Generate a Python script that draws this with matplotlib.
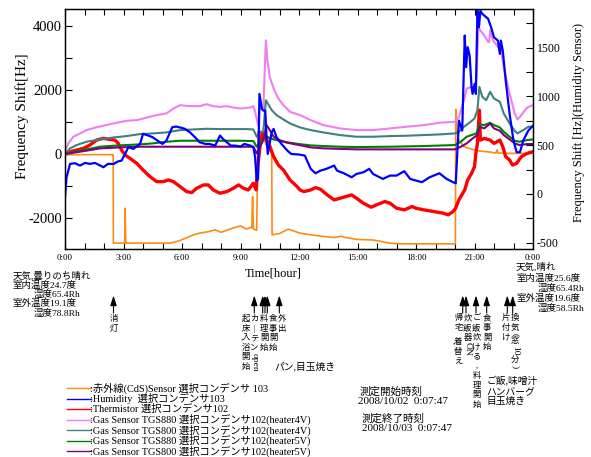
import matplotlib
matplotlib.use("Agg")
import matplotlib.pyplot as plt
from matplotlib.lines import Line2D
from matplotlib.patches import FancyArrowPatch
from matplotlib.ticker import MultipleLocator
from matplotlib.transforms import Affine2D

plt.rcParams['font.family'] = ['Liberation Serif', 'Noto Sans CJK JP']
plt.rcParams['axes.unicode_minus'] = False

# ---------------- data (time in hours since 0:07:47) ----------------
t_cds = [0, 2.47, 2.48, 3.06, 3.08, 3.12, 3.14, 5.4, 5.9, 6.6, 6.9, 7.4, 7.7, 8.0, 8.6, 9.0, 9.3,
         9.5, 9.58, 9.62, 9.66, 9.83, 9.9, 9.95, 10.1, 10.3, 10.45, 10.57, 10.6, 10.62, 11.0, 11.45,
         12.05, 12.6, 13.25, 13.8, 14.2, 14.3, 14.95, 15.8, 16.7, 17.2, 20.02, 20.04, 20.1, 20.2,
         20.46, 21.1, 21.8, 22.1, 22.15, 22.2, 22.8, 24.0]
cds = [-20, -20, -2777, -2777, -1690, -2777, -2777, -2777, -2694, -2517, -2466, -2414, -2360, -2440,
       -2310, -2240, -2340, -2290, -2300, -1330, -2330, -2380, 700, 400, 650, 300, 500, 200, 200,
       -2517, -2480, -2340, -2466, -2517, -2570, -2600, -2560, -2590, -2660, -2680, -2780, -2800,
       -2800, 1390, 700, 435, 228, 104, 62, 30, 130, 30, 20, 20]

t_hum = [0, 0.08, 0.26, 0.51, 0.77, 1.03, 1.28, 1.54, 1.8, 1.97, 2.2, 2.5, 2.7, 2.9, 3.08, 3.25,
         3.5, 3.85, 4.0, 4.27, 4.5, 4.87, 5.0, 5.2, 5.5, 5.7, 6.0, 6.15, 6.4, 6.67, 6.9, 7.2, 7.4,
         7.7, 7.95, 8.1, 8.5, 8.7, 9.0, 9.2, 9.5, 9.66, 9.75, 9.83, 9.9, 9.97, 10.1, 10.17, 10.27,
         10.34, 10.4, 10.6, 10.7, 10.85, 11.1, 11.4, 11.6, 12.0, 12.3, 12.45, 12.6, 12.85, 13.1,
         13.4, 13.8, 13.95, 14.3, 14.7, 14.95, 15.3, 15.6, 15.8, 16.3, 16.67, 17.0, 17.4, 17.7,
         18.3, 18.7, 19.2, 19.57, 19.9, 20.04, 20.2, 20.37, 20.5, 20.57, 20.65, 20.75, 20.85, 20.9,
         21.0, 21.07, 21.15, 21.23, 21.3, 21.4, 21.5, 21.7, 21.85, 22.0, 22.2, 22.3, 22.35, 22.45,
         22.6, 22.8, 23.0, 23.16, 23.33, 23.5, 23.76, 24.0]
hum = [-34, 171, 308, 315, 291, 318, 308, 318, 291, 274, 308, 308, 332, 342, 410, 479, 462, 513,
       616, 599, 581, 530, 513, 547, 684, 691, 677, 667, 633, 581, 530, 513, 513, 496, 599, 564,
       496, 496, 486, 513, 496, 479, 376, 137, 154, 1026, 872, 855, 855, 547, 410, 633, 667, 581,
       513, 445, 410, 404, 393, 325, 257, 212, 239, 257, 291, 239, 212, 171, 205, 222, 257, 205,
       154, 188, 188, 233, 154, 120, 171, 212, 154, 120, 109, 752, 650, 1625, 1300, 1505, 1419,
       1094, 1026, 1129, 1026, 1881, 1710, 1881, 1847, 1830, 1796, 1710, 1607, 1573, 1436, 1573,
       1471, 1163, 821, 547, 428, 428, 547, 650, 701]

t_therm = [0, 0.26, 0.6, 0.94, 1.28, 1.62, 1.97, 2.3, 2.56, 2.73, 2.9, 3.08, 3.33, 3.68, 4.0, 4.36,
           4.7, 5.04, 5.3, 5.56, 5.9, 6.24, 6.5, 6.75, 7.1, 7.35, 7.6, 7.95, 8.3, 8.63, 8.9, 9.15,
           9.4, 9.66, 9.8, 9.9, 10.0, 10.1, 10.25, 10.34, 10.5, 10.7, 10.94, 11.2, 11.54, 11.9,
           12.05, 12.25, 12.6, 12.85, 13.1, 13.45, 13.8, 14.1, 14.4, 14.7, 14.95, 15.3, 15.7, 15.97,
           16.4, 16.67, 17.0, 17.4, 17.8, 18.0, 18.4, 18.9, 19.4, 19.65, 19.9, 20.03, 20.2, 20.4,
           20.5, 20.65, 20.85, 21.0, 21.07, 21.15, 21.25, 21.3, 21.5, 21.8, 22.0, 22.3, 22.45, 22.6,
           22.8, 22.95, 23.16, 23.4, 23.7, 24.0]
therm = [0, 73, 124, 176, 280, 435, 487, 456, 435, 332, 124, -31, -135, -290, -497, -705, -860,
         -860, -808, -860, -1015, -1171, -1202, -1067, -963, -963, -1119, -1222, -1171, -1067,
         -963, -1067, -1119, -912, -1119, -290, 228, 642, 642, 435, 228, -83, -342, -497, -808,
         -1015, -1119, -1171, -1119, -1046, -1098, -1274, -1430, -1378, -1326, -1274, -1378, -1533,
         -1658, -1585, -1481, -1533, -1689, -1740, -1637, -1689, -1740, -1792, -1844, -1896, -1792,
         -1689, -1430, -1222, -1119, -808, -601, -394, 21, 332, 1368, 435, 487, 435, 332, 435, 228,
         -83, -187, -342, -290, -83, 21, 73]

t_880_4v = [0, 0.17, 0.43, 0.77, 1.1, 1.6, 2.1, 2.65, 3.16, 3.7, 4.2, 4.7, 5.2, 5.56, 5.9, 6.4, 6.9,
            7.26, 7.6, 7.95, 8.3, 8.63, 9.0, 9.5, 9.66, 9.75, 9.9, 10.0, 10.17, 10.3, 10.38, 10.5,
            10.7, 10.94, 11.2, 11.54, 12.05, 12.6, 13.25, 14.1, 14.95, 15.8, 16.67, 17.5, 18.4,
            19.2, 20.0, 20.2, 20.46, 20.6, 20.85, 21.0, 21.1, 21.2, 21.3, 21.5, 21.7, 21.75, 21.8,
            21.95, 22.2, 22.35, 22.5, 22.8, 23.06, 23.2, 23.4, 23.7, 24.0]
tgs880_4v = [73, 332, 539, 642, 746, 829, 901, 974, 1036, 1057, 1140, 1212, 1264, 1419, 1523, 1492,
             1492, 1554, 1492, 1471, 1492, 1451, 1419, 1451, 1492, 1316, 901, 1471, 1419, 3543,
             2922, 2404, 2041, 1730, 1523, 1316, 1212, 1057, 901, 798, 746, 746, 798, 850, 901, 974,
             1005, 1160, 1678, 2041, 2093, 1989, 2404, 3957, 3854, 3698, 3491, 3491, 3854, 3543,
             3336, 3284, 2714, 1886, 1264, 1077, 1212, 1451, 1523]

t_800_4v = [0, 0.26, 0.6, 1.1, 1.8, 2.5, 3.16, 3.85, 4.5, 5.2, 5.9, 6.6, 7.26, 7.95, 8.63, 9.3, 9.66,
            9.83, 10.0, 10.17, 10.3, 10.4, 10.6, 10.85, 11.2, 11.54, 12.05, 12.6, 13.25, 14.1,
            14.95, 15.8, 16.67, 17.5, 18.4, 19.2, 20.0, 20.2, 20.46, 20.8, 21.0, 21.15, 21.25, 21.4,
            21.6, 21.8, 22.0, 22.3, 22.5, 22.8, 23.06, 23.2, 23.5, 23.76, 24.0]
tgs800_4v = [0, 176, 280, 383, 456, 518, 559, 622, 642, 673, 746, 767, 787, 777, 777, 777, 767, 539,
             694, 694, 1678, 1575, 1368, 1212, 1077, 953, 829, 746, 673, 591, 539, 539, 559, 570,
             591, 611, 642, 694, 850, 1005, 1109, 1368, 2093, 1782, 1678, 1937, 1730, 1626, 1264,
             953, 725, 642, 746, 850, 850]

t_880_5v = [0, 0.43, 1.1, 1.8, 2.5, 3.16, 3.85, 4.5, 5.2, 5.9, 6.9, 7.95, 9.0, 9.66, 9.83, 10.0,
            10.34, 10.7, 11.2, 12.0, 12.6, 13.25, 14.1, 14.95, 16.67, 18.4, 20.0, 20.3, 20.6, 20.85,
            21.1, 21.25, 21.5, 21.8, 22.0, 22.3, 22.5, 22.8, 23.06, 23.3, 23.7, 24.0]
tgs880_5v = [0, 73, 145, 228, 259, 280, 301, 332, 383, 414, 414, 414, 414, 404, 228, 383, 539, 456,
             383, 311, 269, 249, 228, 218, 228, 249, 280, 383, 539, 591, 642, 922, 901, 974, 901,
             829, 694, 539, 414, 383, 435, 456]

t_800_5v = [0, 0.43, 1.1, 1.8, 2.8, 3.85, 5.5, 7.2, 8.9, 9.66, 9.83, 10.0, 10.17, 10.34, 10.5, 10.7,
            11.0, 11.4, 12.0, 12.6, 13.25, 14.95, 16.67, 18.4, 20.0, 20.3, 20.6, 20.9, 21.15, 21.27,
            21.5, 21.8, 22.0, 22.3, 22.5, 22.8, 23.06, 23.3, 23.7, 24.0]
tgs800_5v = [0, 41, 104, 176, 207, 228, 228, 228, 228, 228, 21, 228, 435, 901, 746, 539, 435, 352,
             280, 207, 176, 145, 145, 145, 145, 228, 332, 487, 591, 850, 798, 953, 798, 725, 591,
             456, 332, 280, 311, 311]

xtick_hours = [0, 3, 6, 9, 12, 15, 18, 21, 24]
xtick_labels = ["0:00", "3:00", "6:00", "9:00", "12:00", "15:00", "18:00", "21:00", "0:00"]

legend_labels = [
    ":赤外線(CdS)Sensor 選択コンデンサ 103",
    ":Humidity  選択コンデンサ103",
    ":Thermistor 選択コンデンサ102",
    ":Gas Sensor TGS880 選択コンデンサ102(heater4V)",
    ":Gas Sensor TGS800 選択コンデンサ102(heater4V)",
    ":Gas Sensor TGS880 選択コンデンサ102(heater5V)",
    ":Gas Sensor TGS800 選択コンデンサ102(heater5V)",
]
colors = ["#ff8a14", "#0000ff", "#ff0000", "#f07ef0", "#3f8080", "#008000", "#800080"]

# ---------------- figure ----------------
W, H = 591, 457
fig = plt.figure(figsize=(W / 100, H / 100), dpi=100)
px = Affine2D().scale(1 / W, -1 / H).translate(0, 1) + fig.transFigure

ax = fig.add_axes([65 / W, 1 - 249 / H, (533 - 65) / W, (249 - 9) / H])
ax2 = ax.twinx()

ax.plot(t_cds, cds, color=colors[0], lw=1.2)
ax.plot(t_therm, therm, color=colors[2], lw=2.4)
ax.plot(t_880_4v, tgs880_4v, color=colors[3], lw=1.5)
ax.plot(t_800_4v, tgs800_4v, color=colors[4], lw=1.5)
ax.plot(t_880_5v, tgs880_5v, color=colors[5], lw=1.5)
ax.plot(t_800_5v, tgs800_5v, color=colors[6], lw=1.5)
ax2.plot(t_hum, hum, color=colors[1], lw=1.6)

ax.set_xlim(0, 24)
ax.set_ylim(-2960, 4520)
ax2.set_ylim(-565, 1897)

ax.set_xticks(xtick_hours)
ax.set_xticklabels(xtick_labels)
ax.xaxis.set_minor_locator(MultipleLocator(1))
ax.yaxis.set_major_locator(MultipleLocator(2000))
ax.yaxis.set_minor_locator(MultipleLocator(1000))
ax2.yaxis.set_major_locator(MultipleLocator(500))
ax2.yaxis.set_minor_locator(MultipleLocator(250))

ax.tick_params(axis='x', which='both', direction='in', top=True, bottom=True,
               length=4, width=0.8, labelsize=6.5, pad=3.5)
ax.tick_params(axis='y', which='both', direction='in', left=True, right=False,
               length=5, width=0.8, labelsize=10.5, pad=2)
ax2.tick_params(axis='y', which='both', direction='in', length=5, width=0.8,
                labelsize=8.5, pad=2.5)
for a in (ax, ax2):
    for s in a.spines.values():
        s.set_linewidth(0.9)

fig.text(22 / W, 1 - 116 / H, "Frequency Shift[Hz]", rotation=90,
         ha='center', va='center', fontsize=11)
fig.text(579 / W, 1 - 122 / H, "Frequency Shift [Hz](Humidity Sensor)", rotation=90,
         ha='center', va='center', fontsize=9)
fig.text(273 / W, 1 - 274 / H, "Time[hour]", ha='center', va='center', fontsize=9)


def put(x, y, s, size=7.0, ha='left', **kw):
    fig.text(x, y, s, transform=px, ha=ha, va='center', fontsize=size, **kw)


# weather notes at start and end of the measurement
for x, y, s in [(12.7, 276, "天気,曇りのち晴れ"), (12.7, 285.5, "室内温度24.7度"),
                (33.3, 294.5, "湿度65.4Rh"), (12.7, 303.5, "室外温度19.1度"),
                (33.3, 313, "湿度78.8Rh"),
                (516, 267.7, "天気,晴れ"), (516, 278, "室内温度25.6度"),
                (537.7, 288, "湿度65.4Rh"), (516, 298, "室外温度19.6度"),
                (537.7, 308.3, "湿度58.5Rh")]:
    put(x, y, s, size=6.8)

# event arrows
for xa in [113.5, 254.3, 262.7, 265.0, 267.3, 279.3, 462.7, 466.0, 476.0, 486.7, 507.3, 512.7]:
    fig.add_artist(FancyArrowPatch((xa, 313), (xa, 295.5), transform=px,
                                   arrowstyle='-|>,head_length=0.75,head_width=0.24',
                                   mutation_scale=8, color='black', lw=0.8,
                                   shrinkA=0, shrinkB=0))

ROW = 9.6
CSIZE = 6.0


def column(x, y0, tokens, size=CSIZE):
    """Stack characters vertically; tuples are sideways latin text (text, length),
    a bare '^' adds half a row of space."""
    y = y0
    for tok in tokens:
        if isinstance(tok, tuple):
            s, L = tok
            fig.text(x, y - ROW / 2 + L / 2, s, transform=px, rotation=-90,
                     ha='center', va='center', fontsize=6.8)
            y += L
        elif tok == '^':
            y += ROW * 0.5
        else:
            fig.text(x, y, tok, transform=px, ha='center', va='center', fontsize=size)
            y += ROW


column(113.8, 319, ['消', '灯'])
column(245.5, 319, ['起', '床', ',入', '浴', '開', '始'])
column(254.5, 319, ['カ', '|', 'テ', 'ン', ('open', 19)])
column(264.0, 319, ['料', '理', '開', '始'])
column(273.3, 319, ['食', '事', '開', '始'])
column(282.0, 319, ['外', '出'])
column(458.3, 318.3, ['帰', '宅', '^', ',着', '替', 'え'])
column(467.5, 318.3, ['炊', '飯', '器', ('ON', 14)])
column(476.5, 318.3, ['ご', '飯', '炊', 'け', 'る', ',', '料', '理', '開', '始'])
column(487.0, 318.3, ['食', '事', '開', '始'])
column(506.2, 318.3, ['片', '付', 'け'])
column(514.8, 318.3, ['換', '気', ('(', 3.5), '窓', ('10', 9.7), '分', (')', 3.5)])

put(274, 366, "パン,目玉焼き")
put(486.7, 381.7, "ご飯,味噌汁")
put(486.7, 391.7, "ハンバーグ")
put(486.7, 401.2, "目玉焼き")

put(360, 391.7, "測定開始時刻", size=7.6)
put(358.3, 401.7, "2008/10/02  0:07:47", size=8)
put(361.7, 419, "測定終了時刻", size=7.6)
put(361.7, 428.5, "2008/10/03  0:07:47", size=8)

# legend
for i, (lab, c) in enumerate(zip(legend_labels, colors)):
    y = 388 + 10.5 * i
    fig.add_artist(Line2D([67, 90.5], [y, y], transform=px, color=c, lw=1.0))
    put(90.5, y, lab, size=7.4)

fig.savefig("out.png", dpi=100)
